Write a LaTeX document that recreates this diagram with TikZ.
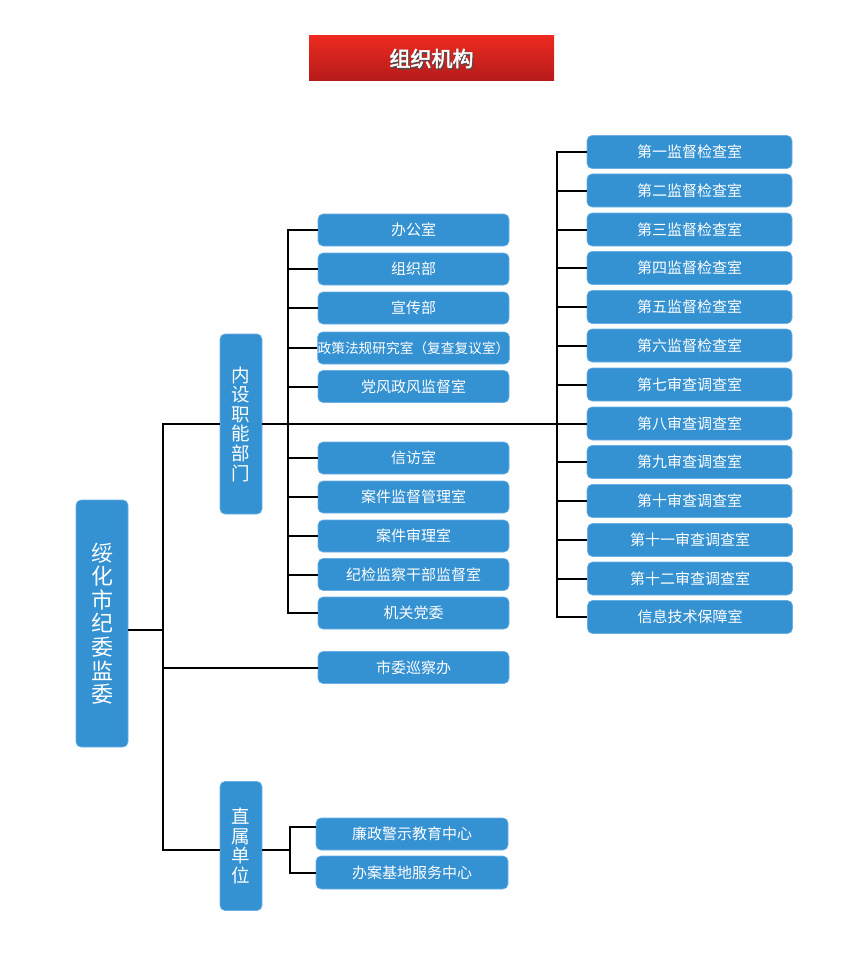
\documentclass[tikz,border=0pt]{standalone}
\usepackage{fontspec}
\setmainfont{Noto Sans CJK SC}
\newfontfamily\titlefont[FakeBold=2.5]{Noto Sans CJK SC}
\definecolor{boxblue}{HTML}{3491D2}
\definecolor{boxedge}{HTML}{6AB0E4}
\definecolor{titletop}{HTML}{EC2A20}
\definecolor{titlebot}{HTML}{B51B1B}
\begin{document}
\begin{tikzpicture}[x=1pt,y=-1pt,
  box/.style={rectangle,rounded corners=5pt,fill=boxblue,draw=boxedge,line width=0.6pt,
    text=white,inner sep=0pt,font=\fontsize{15}{16}\selectfont},
  midbox/.style={box,minimum width=191pt,minimum height=32pt},
  rbox/.style={box,minimum width=205pt,minimum height=33pt},
  vbox/.style={box,minimum width=42pt,align=center,font=\fontsize{18.5}{19.6}\selectfont},
  conn/.style={draw=black,line width=2pt}]
\useasboundingbox (0,0) rectangle (860,960);
% title
\shade[top color=titletop,bottom color=titlebot] (309,36) rectangle (554,81);
\node[text=black!70,font=\titlefont\fontsize{21}{24}\selectfont] (tsh) at (432.5,60) {组织机构};
\node[text=white,font=\titlefont\fontsize{21}{24}\selectfont] (title) at (431.5,58.5) {组织机构};
% main box
\node[box,minimum width=52pt,minimum height=247pt,align=center,font=\fontsize{22}{23.6}\selectfont] (L) at (102,623.5) {绥\\化\\市\\纪\\委\\监\\委};
\node[vbox,minimum height=180pt] (n) at (241,424) {内\\设\\职\\能\\部\\门};
\node[vbox,minimum height=129pt] (z) at (241,846) {直\\属\\单\\位};
% middle column
\node[midbox] (m1) at (413.5,230) {办公室};
\node[midbox] (m2) at (413.5,269) {组织部};
\node[midbox] (m3) at (413.5,308) {宣传部};
\node[midbox,font=\fontsize{13.7}{16}\selectfont] (m4) at (413.5,348) {政策法规研究室（复查复议室）};
\node[midbox] (m5) at (413.5,386.5) {党风政风监督室};
\node[midbox] (m6) at (413.5,458) {信访室};
\node[midbox] (m7) at (413.5,497) {案件监督管理室};
\node[midbox] (m8) at (413.5,536) {案件审理室};
\node[midbox] (m9) at (413.5,574.5) {纪检监察干部监督室};
\node[midbox] (m10) at (413.5,613) {机关党委};
\node[midbox] (sx) at (413.5,667.5) {市委巡察办};
\node[midbox,minimum width=192pt] (d1) at (412,834) {廉政警示教育中心};
\node[midbox,minimum width=192pt,minimum height=33pt] (d2) at (412,872.5) {办案基地服务中心};
% right column
\node[rbox] (r1) at (689.5,152) {第一监督检查室};
\node[rbox] (r2) at (689.5,190.5) {第二监督检查室};
\node[rbox] (r3) at (689.5,229.5) {第三监督检查室};
\node[rbox] (r4) at (689.5,268) {第四监督检查室};
\node[rbox] (r5) at (689.5,307) {第五监督检查室};
\node[rbox] (r6) at (689.5,345.5) {第六监督检查室};
\node[rbox] (r7) at (689.5,384.5) {第七审查调查室};
\node[rbox] (r8) at (689.5,423.5) {第八审查调查室};
\node[rbox] (r9) at (689.5,462) {第九审查调查室};
\node[rbox] (r10) at (689.5,501) {第十审查调查室};
\node[rbox] (r11) at (690,540) {第十一审查调查室};
\node[rbox] (r12) at (690,578.5) {第十二审查调查室};
\node[rbox] (r13) at (690,617) {信息技术保障室};
% spine coordinates
\coordinate (s0) at (163,424);
\coordinate (sp1) at (288,424);
\coordinate (sp2) at (557,424);
\coordinate (sp3) at (290,850);
% connectors
\draw[conn] (n.west) -- (n.west -| s0) -- (s0 |- sp3) -- (z.west |- sp3);
\draw[conn] (L.east |- 0,630) -- (s0 |- 0,630);
\draw[conn] (sx.west) -- (sx.west -| s0);
\draw[conn] (n.east) -- (n.east -| r8.west);
\draw[conn] (m1.west) -| (sp1) |- (m10.west);
\foreach \i in {2,...,9} {\draw[conn] (m\i.west) -- (m\i.west -| sp1);}
\draw[conn] (r1.west) -| (sp2) |- (r13.west);
\foreach \i in {2,...,12} {\draw[conn] (r\i.west) -- (r\i.west -| sp2);}
\draw[conn] (z.east |- sp3) -- (sp3);
\draw[conn] ([yshift=7pt]d1.west) -| (sp3) |- (d2.west);
\end{tikzpicture}
\end{document}
